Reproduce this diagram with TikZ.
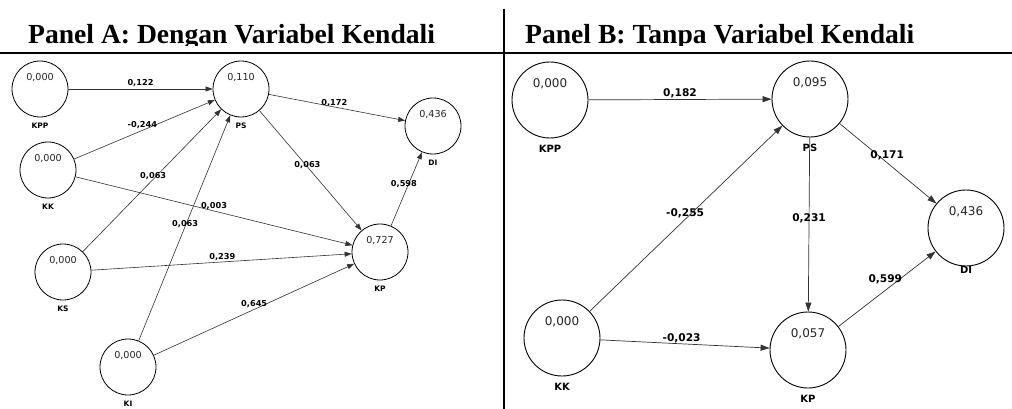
\documentclass[tikz,border=0pt]{standalone}
\usepackage{fontspec}
\newfontfamily\djv{DejaVu Sans}
\newfontfamily\ttl{Liberation Serif}
\usetikzlibrary{arrows.meta}
\begin{document}
\begin{tikzpicture}[x=1pt,y=-1pt,
  cA/.style={circle,draw=black,line width=0.8pt,minimum size=56pt,inner sep=0pt},
  cB/.style={circle,draw=black,line width=0.9pt,minimum size=76pt,inner sep=0pt},
  valA/.style={font=\djv\fontsize{9.6}{10}\selectfont,text=black!85,inner sep=0pt,yshift=12pt},
  valB/.style={font=\djv\fontsize{12}{13}\selectfont,text=black!85,inner sep=0pt,yshift=16pt},
  nmA/.style={font=\djv\bfseries\fontsize{7.5}{8}\selectfont,inner sep=0pt,yshift=-36.5pt},
  nmB/.style={font=\djv\bfseries\fontsize{10}{11}\selectfont,inner sep=0pt,yshift=-49pt},
  eA/.style={draw=black!80,line width=0.6pt,-{Triangle[length=7pt,width=5pt]}},
  eB/.style={draw=black!80,line width=0.7pt,-{Triangle[length=9pt,width=6pt]}},
  lA/.style={font=\djv\bfseries\fontsize{8.2}{9}\selectfont,inner sep=0pt},
  lB/.style={font=\djv\bfseries\fontsize{10.6}{11}\selectfont,inner sep=0pt},
  ttlstyle/.style={font=\ttl\bfseries\fontsize{27.6}{30}\selectfont,inner sep=0pt,anchor=base west},
  rule/.style={draw=black,line width=2pt}
]
\useasboundingbox (0,0) rectangle (1012,409);
\fill[white] (0,0) rectangle (1012,409);

% titles (descenders clipped as in the reference)
\begin{scope}
\clip (0,0) rectangle (1012,45.5);
\node[ttlstyle] (titleA) at (28,43.5) {Panel A: Dengan Variabel Kendali};
\node[ttlstyle] (titleB) at (525,43.5) {Panel B: Tanpa Variabel Kendali};
\end{scope}

% rules
\coordinate (hl) at (0,53.5);
\coordinate (hr) at (1012,53.5);
\coordinate (vt) at (504,9);
\coordinate (vb) at (504,409);
\draw[rule] (hl) -- (hr);
\draw[rule] (vt) -- (vb);

% ---------------- Panel A ----------------
\node[cA,label={[valA]center:{0,000}},label={[nmA]center:{KPP}}] (aKPP) at (40,89) {};
\node[cA,label={[valA]center:{0,110}},label={[nmA]center:{PS}}] (aPS) at (241,89) {};
\node[cA,label={[valA]center:{0,436}},label={[nmA]center:{DI}}] (aDI) at (433,126) {};
\node[cA,label={[valA]center:{0,000}},label={[nmA]center:{KK}}] (aKK) at (48,170) {};
\node[cA,label={[valA]center:{0,000}},label={[nmA]center:{KS}}] (aKS) at (63,272) {};
\node[cA,label={[valA]center:{0,000}},label={[nmA]center:{KI}}] (aKI) at (128,367) {};
\node[cA,label={[valA]center:{0,727}},label={[nmA]center:{KP}}] (aKP) at (380,252) {};

\draw[eA] (aKPP) -- node[lA,pos=0.5,yshift=5.5pt]{0,122} (aPS);
\draw[eA] (aKK) -- node[lA,pos=0.485,yshift=5pt]{-0,244} (aPS);
\draw[eA] (aKS) -- node[lA,pos=0.516,xshift=-1pt,yshift=2pt]{0,063} (aPS);
\draw[eA] (aKI) -- node[lA,pos=0.518,xshift=-1pt]{0,063} (aPS);
\draw[eA] (aKK) -- node[lA,pos=0.5,yshift=4.5pt]{0,003} (aKP);
\draw[eA] (aKS) -- node[lA,pos=0.503,yshift=5pt]{0,239} (aKP);
\draw[eA] (aKI) -- node[lA,pos=0.506,yshift=5pt,xshift=-1pt]{0,645} (aKP);
\draw[eA] (aPS) -- node[lA,pos=0.48,yshift=4pt]{0,172} (aDI);
\draw[eA] (aPS) -- node[lA,pos=0.47,yshift=2pt]{0,063} (aKP);
\draw[eA] (aKP) -- node[lA,pos=0.545,xshift=-4pt,yshift=2pt]{0,598} (aDI);

% ---------------- Panel B ----------------
\node[cB,label={[valB]center:{0,000}},label={[nmB]center:{KPP}}] (bKPP) at (550,100) {};
\node[cB,label={[valB]center:{0,095}},label={[nmB]center:{PS}}] (bPS) at (810,99) {};
\node[cB,label={[valB]center:{0,436}},label={[nmB,yshift=7pt]center:{DI}}] (bDI) at (966,228) {};
\node[cB,label={[valB]center:{0,000}},label={[nmB]center:{KK}}] (bKK) at (562,338) {};
\node[cB,label={[valB]center:{0,057}},label={[nmB]center:{KP}}] (bKP) at (808,350) {};

\draw[eB] (bKPP) -- node[lB,pos=0.5,yshift=6pt]{0,182} (bPS);
\draw[eB] (bKK) -- node[lB,pos=0.511,xshift=-3pt,yshift=3pt]{-0,255} (bPS);
\draw[eB] (bPS) -- node[lB,pos=0.463]{0,231} (bKP);
\draw[eB] (bPS) -- node[lB,pos=0.45,xshift=4pt,yshift=4pt]{0,171} (bDI);
\draw[eB] (bKP) -- node[lB,pos=0.534,xshift=-5pt,yshift=7pt]{0,599} (bDI);
\draw[eB] (bKK) -- node[lB,pos=0.48,yshift=6pt]{-0,023} (bKP);
\end{tikzpicture}
\end{document}
